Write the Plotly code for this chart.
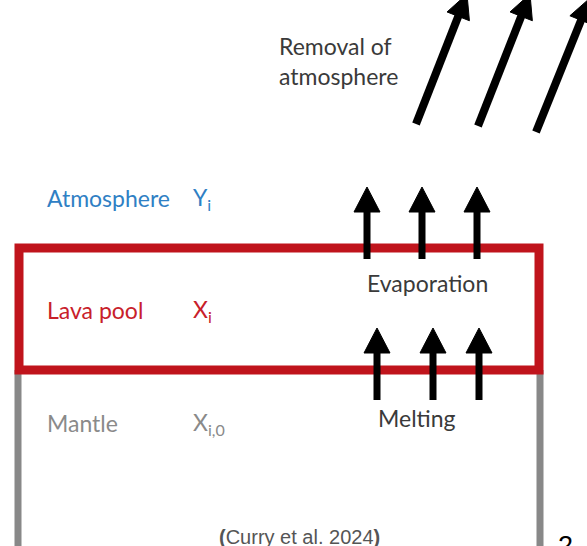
import math
import plotly.graph_objects as go

W, H = 587, 546

# Layer labels
layer_names = ["Atmosphere", "Lava pool", "Mantle"]
layer_symbols = ["Y<sub>i</sub>", "X<sub>i</sub>", "X<sub>i,0</sub>"]
layer_colors = ["#2f80c4", "#c8202a", "#8a8a8a"]
layer_y = [198, 310, 423]

# Process labels (left edge x, centre y)
process_labels = ["Removal of<br>atmosphere", "Evaporation", "Melting"]
process_x = [277, 365, 376]
process_y = [61, 283, 418]

# Arrows: (x_tail, y_tail, x_tip, y_tip)
removal_arrows = [(416, 124, 467, -6), (478, 126, 530, -6), (536, 132, 590, -2)]
evap_arrows = [(367, 259, 367, 187), (422, 259, 422, 187), (477, 259, 477, 187)]
melt_arrows = [(377, 400, 377, 328), (433, 400, 433, 328), (479, 400, 479, 328)]

# Lava pool box and mantle walls
box = dict(x0=19, y0=248, x1=539, y1=370)
walls_x = [18, 540]

citation = "<b>(</b>Curry et al. 2024<b>)</b>"
page_no = "2"

fig = go.Figure()
fig.add_trace(go.Scatter(x=[0, W], y=[0, H], mode="markers", marker=dict(opacity=0),
                         hoverinfo="skip", showlegend=False))

shapes = []
for wx in walls_x:
    shapes.append(dict(type="line", x0=wx, x1=wx, y0=box["y1"], y1=H + 5,
                       line=dict(color="#888888", width=7), layer="above"))
shapes.append(dict(type="rect", x0=box["x0"], y0=box["y0"], x1=box["x1"], y1=box["y1"],
                   line=dict(color="#c0141c", width=9), fillcolor="rgba(0,0,0,0)", layer="above"))


def arrow(x0, y0, x1, y1, lw, hl, hw):
    dx, dy = x1 - x0, y1 - y0
    L = math.hypot(dx, dy)
    ux, uy = dx / L, dy / L
    px, py = -uy, ux
    bx, by = x1 - ux * hl, y1 - uy * hl
    out = [dict(type="line", x0=x0, y0=y0, x1=bx + ux * 2, y1=by + uy * 2,
                line=dict(color="black", width=lw), layer="above")]
    path = (f"M{x1},{y1} L{bx + px * hw / 2},{by + py * hw / 2} "
            f"L{bx - px * hw / 2},{by - py * hw / 2} Z")
    out.append(dict(type="path", path=path, fillcolor="black",
                    line=dict(color="black", width=1), layer="above"))
    return out


for a in removal_arrows:
    shapes += arrow(*a, 8, 24, 24)
for a in evap_arrows + melt_arrows:
    shapes += arrow(*a, 7, 25, 26)

annotations = []
font_main = "Lato, Open Sans, sans-serif"
fs = 23
for name, sym, col, yy in zip(layer_names, layer_symbols, layer_colors, layer_y):
    annotations.append(dict(x=45, y=yy, text=name, showarrow=False, xanchor="left", yanchor="middle",
                            font=dict(family=font_main, size=fs, color=col)))
    annotations.append(dict(x=191, y=yy, text=sym, showarrow=False, xanchor="left", yanchor="middle",
                            font=dict(family=font_main, size=fs, color=col)))
for t, xx, yy in zip(process_labels, process_x, process_y):
    annotations.append(dict(x=xx, y=yy, text=t, showarrow=False, xanchor="left", yanchor="middle",
                            align="left", font=dict(family=font_main, size=fs, color="#3a3a3a")))
annotations.append(dict(x=299, y=524, text=citation, showarrow=False, xanchor="center", yanchor="top",
                        font=dict(family="Liberation Sans, Arial", size=20, color="#555555")))
annotations.append(dict(x=556, y=529, text=page_no, showarrow=False, xanchor="left", yanchor="top",
                        font=dict(family="Liberation Sans, Arial", size=27, color="black")))

fig.update_layout(
    width=W, height=H, margin=dict(l=0, r=0, t=0, b=0),
    paper_bgcolor="white", plot_bgcolor="white",
    xaxis=dict(range=[0, W], visible=False, fixedrange=True),
    yaxis=dict(range=[H, 0], visible=False, fixedrange=True),
    shapes=shapes, annotations=annotations, showlegend=False,
)
fig.write_html("out.html", config={"displayModeBar": False},
               post_script="document.body.style.margin='0';document.body.style.overflow='hidden';")
